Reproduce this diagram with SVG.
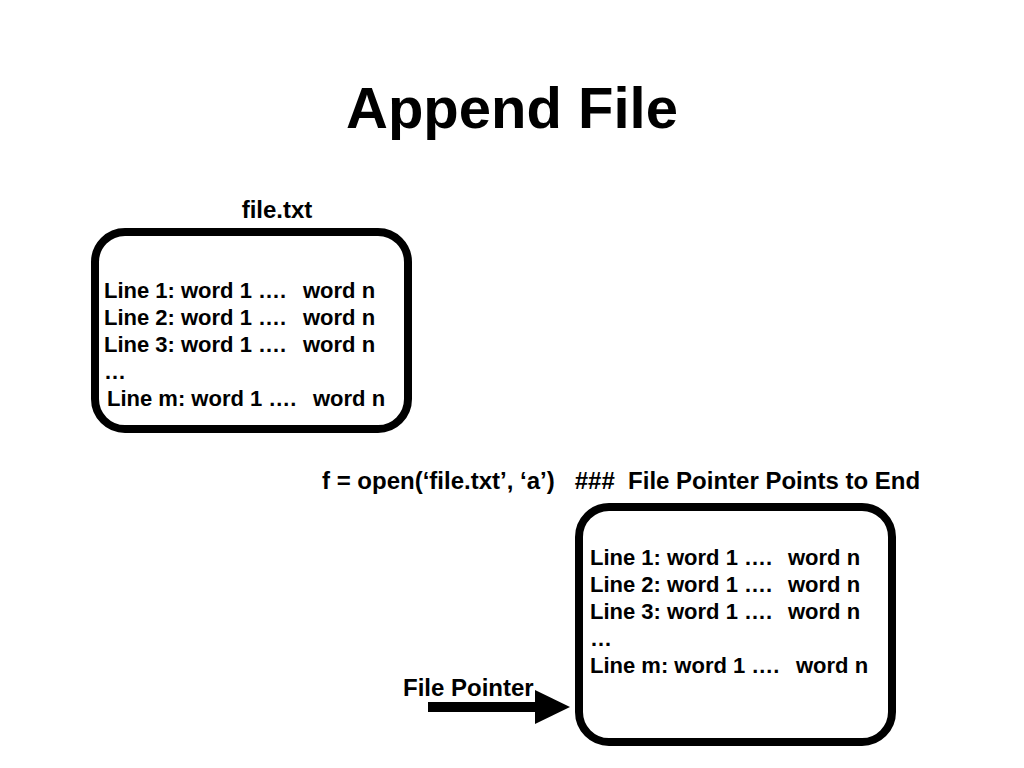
<svg xmlns="http://www.w3.org/2000/svg" width="1024" height="768" viewBox="0 0 1024 768">
<style>
text{font-family:"Liberation Sans",Arial,sans-serif;font-weight:bold;fill:#000}
.t{font-size:22px}
.l{font-size:24px}
.box{fill:#fff;stroke:#000;stroke-width:8}
</style>
<rect width="1024" height="768" fill="#fff"/>
<text id="title" x="512" y="128" font-size="58" text-anchor="middle">Append File</text>
<g id="file1">
<text class="l" x="277" y="218" text-anchor="middle">file.txt</text>
<rect class="box" x="95" y="232" width="313" height="197" rx="30"/>
<text class="t" x="104" y="298">Line 1: word 1 ….</text><text class="t" x="303" y="298">word n</text>
<text class="t" x="104" y="325">Line 2: word 1 ….</text><text class="t" x="303" y="325">word n</text>
<text class="t" x="104" y="352">Line 3: word 1 ….</text><text class="t" x="303" y="352">word n</text>
<text class="t" x="104" y="379">…</text>
<text class="t" x="107" y="406">Line m: word 1 ….</text><text class="t" x="313" y="406">word n</text>
</g>
<text id="code" class="l" x="322" y="489" xml:space="preserve">f = open(‘file.txt’, ‘a’)   ###  File Pointer Points to End</text>
<g id="file2">
<rect class="box" x="579" y="507" width="313" height="235" rx="30"/>
<text class="t" x="590" y="565">Line 1: word 1 ….</text><text class="t" x="788" y="565">word n</text>
<text class="t" x="590" y="592">Line 2: word 1 ….</text><text class="t" x="788" y="592">word n</text>
<text class="t" x="590" y="619">Line 3: word 1 ….</text><text class="t" x="788" y="619">word n</text>
<text class="t" x="590" y="646">…</text>
<text class="t" x="590" y="673">Line m: word 1 ….</text><text class="t" x="796" y="673">word n</text>
</g>
<g id="pointer">
<text class="l" x="403" y="696">File Pointer</text>
</g>
<g id="connectors">
<line x1="428" y1="707" x2="537" y2="707" stroke="#000" stroke-width="10"/>
<polygon points="535,690 570,707 535,724" fill="#000"/>
</g>
</svg>
